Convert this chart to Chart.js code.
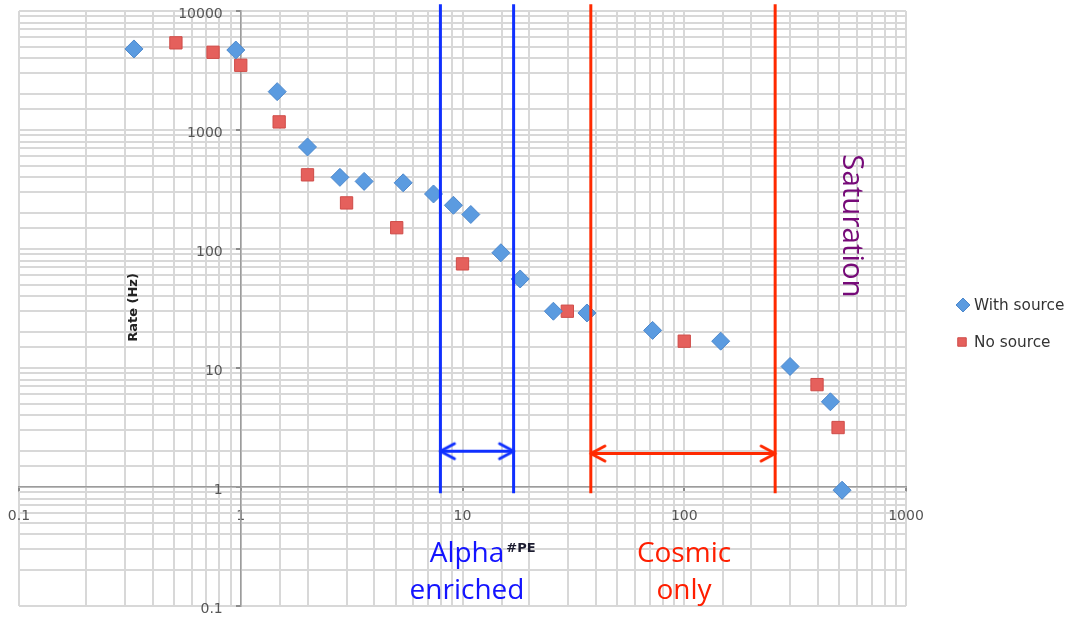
<!DOCTYPE html>
<html><head><meta charset="utf-8">
<script src="https://cdn.jsdelivr.net/npm/chart.js@4.4.1/dist/chart.umd.min.js"></script>
<style>html,body{margin:0;padding:0;background:#fff;}#wrap{width:1070px;height:617px;}</style>
</head><body><div id="wrap"><canvas id="c" width="1070" height="617"></canvas></div>
<script>
// ---- data ----
const withSourceX = [0.33, 0.95, 1.46, 2.0, 2.8, 3.6, 5.4, 7.4, 9.1, 10.9, 14.9, 18.2, 25.7, 36.4, 72, 146, 300, 456, 515];
const withSourceY = [4800, 4700, 2100, 720, 400, 370, 360, 290, 233, 195, 93, 56, 30, 29, 20.7, 16.8, 10.3, 5.2, 0.94];
const noSourceX = [0.51, 0.75, 1.0, 1.49, 2.0, 3.0, 5.05, 10, 29.7, 100, 397, 494];
const noSourceY = [5400, 4500, 3500, 1170, 420, 244, 151, 75, 30, 16.8, 7.25, 3.16];
const seriesNames = ['With source', 'No source'];
const xTickLabels = [0.1, 1, 10, 100, 1000];
const yTickLabels = [0.1, 1, 10, 100, 1000, 10000];
const alphaBounds = [7.95, 17.0];
const cosmicBounds = [37.9, 257];
const boundSpanY = [0.885, 11400];
const alphaArrowY = 2.0;
const cosmicArrowY = 1.91;

const BLUE = '#1030ff', RED = '#ff2a00';
function pts(xs, ys) { return xs.map((x, i) => ({x, y: ys[i]})); }
function vline(x) { return [{x, y: boundSpanY[0]}, {x, y: boundSpanY[1]}]; }
function head(color, dir) {
  const L = 14, A = 7.5, c = document.createElement('canvas');
  c.width = 2 * L + 8; c.height = 2 * A + 8;
  const g = c.getContext('2d'), cx = c.width / 2, cy = c.height / 2;
  g.strokeStyle = color; g.lineWidth = 3; g.lineCap = 'round'; g.lineJoin = 'round';
  g.beginPath(); g.moveTo(cx + dir * L, cy - A); g.lineTo(cx, cy); g.lineTo(cx + dir * L, cy + A); g.stroke();
  return c;
}
function arrow(bounds, y, color) {
  return {data: [{x: bounds[0], y}, {x: bounds[1], y}], showLine: true, borderColor: color, borderWidth: 3,
    pointStyle: [head(color, 1), head(color, -1)], pointRadius: 3, clip: false, order: 0};
}
function bound(x, color) {
  return {data: vline(x), showLine: true, borderColor: color, borderWidth: 3, pointRadius: 0, clip: false, order: 0};
}

// move the tick labels of the value-positioned axes away from their axis line
const labelGap = {
  id: 'labelGap',
  beforeDraw(chart) {
    const area = chart.chartArea;
    chart.scales.y.getLabelItems(area).forEach(it => {
      if (!it._moved) { it.options.translation[0] -= 18; it._moved = true; }
    });
    chart.scales.x.getLabelItems(area).forEach(it => {
      if (!it._moved) { it.options.translation[1] += 16.5; it._moved = true; }
    });
  }
};

const textPlugin = {
  id: 'texts',
  afterDraw(chart) {
    const ctx = chart.ctx;
    ctx.save();
    ctx.textAlign = 'center'; ctx.textBaseline = 'alphabetic';
    ctx.font = '28px "Open Sans"';
    ctx.fillStyle = '#1414ff';
    ctx.fillText('Alpha', 467, 562);
    ctx.fillText('enriched', 467, 599);
    ctx.fillStyle = '#ff1e00';
    ctx.fillText('Cosmic', 684, 562);
    ctx.fillText('only', 684, 599);
    ctx.font = 'bold 13px "DejaVu Sans"';
    ctx.fillStyle = '#1c1c30';
    ctx.fillText('#PE', 521, 552);
    // Saturation
    ctx.save();
    ctx.translate(843, 226); ctx.rotate(Math.PI / 2);
    ctx.font = '29.5px "Open Sans"'; ctx.fillStyle = '#760a78';
    ctx.fillText('Saturation', 0, 0);
    ctx.restore();
    // y title
    ctx.save();
    ctx.translate(134, 307.5); ctx.rotate(-Math.PI / 2);
    ctx.font = 'bold 13px "DejaVu Sans"'; ctx.fillStyle = '#222'; ctx.textBaseline = 'middle';
    ctx.fillText('Rate (Hz)', 0, 0);
    ctx.restore();
    // legend
    const items = [[0, 963, 305, 7], [1, 962, 342, 6]];
    ctx.font = '15.3px "DejaVu Sans"'; ctx.textAlign = 'left'; ctx.textBaseline = 'middle';
    items.forEach(([di, x, y, r]) => {
      const ds = chart.data.datasets[di];
      ctx.fillStyle = ds.backgroundColor; ctx.strokeStyle = ds.borderColor; ctx.lineWidth = 1;
      Chart.helpers.drawPoint(ctx, {pointStyle: ds.pointStyle, radius: r, rotation: 0, borderWidth: 1}, x, y);
      ctx.fillStyle = '#333';
      ctx.fillText(ds.label, 974, y + 1);
    });
    ctx.restore();
  }
};

const isLabelled = (v, list) => list.some(t => Math.abs(Math.log10(v) - Math.log10(t)) < 1e-6);

new Chart(document.getElementById('c'), {
  type: 'scatter',
  data: {
    datasets: [
      {label: seriesNames[0], data: pts(withSourceX, withSourceY), pointStyle: 'rectRot', pointRadius: 9,
        backgroundColor: '#5b9be0', borderColor: '#4d88cc', borderWidth: 1, order: 1},
      {label: seriesNames[1], data: pts(noSourceX, noSourceY), pointStyle: 'rect', pointRadius: 8.7,
        backgroundColor: '#e5605c', borderColor: '#cf4c48', borderWidth: 1, order: 1},
      bound(alphaBounds[0], BLUE), bound(alphaBounds[1], BLUE),
      bound(cosmicBounds[0], RED), bound(cosmicBounds[1], RED),
      arrow(alphaBounds, alphaArrowY, BLUE), arrow(cosmicBounds, cosmicArrowY, RED)
    ]
  },
  options: {
    responsive: false, animation: false, events: [],
    layout: {padding: {left: 19, right: 164, top: 11, bottom: 11}},
    plugins: {legend: {display: false}, tooltip: {enabled: false}},
    scales: {
      x: {
        type: 'logarithmic', min: 0.1, max: 1000, position: {y: 1},
        grid: {color: '#d8d8d8', lineWidth: 2, tickLength: 4,
          tickColor: c => isLabelled(c.tick.value, xTickLabels) ? '#8c8c8c' : 'rgba(0,0,0,0)'},
        border: {color: '#9c9c9c', width: 1.5},
        ticks: {autoSkip: false, maxRotation: 0, padding: 0, color: '#555', font: {family: 'DejaVu Sans', size: 14},
          callback: v => isLabelled(v, xTickLabels) ? String(v) : ''}
      },
      y: {
        type: 'logarithmic', min: 0.1, max: 10000, position: {x: 1},
        grid: {color: '#d8d8d8', lineWidth: 2, tickLength: 4,
          tickColor: c => isLabelled(c.tick.value, yTickLabels) ? '#8c8c8c' : 'rgba(0,0,0,0)'},
        border: {color: '#9c9c9c', width: 1.5},
        ticks: {autoSkip: false, padding: 0, labelOffset: 3, color: '#555', font: {family: 'DejaVu Sans', size: 14},
          callback: v => isLabelled(v, yTickLabels) ? String(v) : ''}
      }
    }
  },
  plugins: [labelGap, textPlugin]
});
</script></body></html>
